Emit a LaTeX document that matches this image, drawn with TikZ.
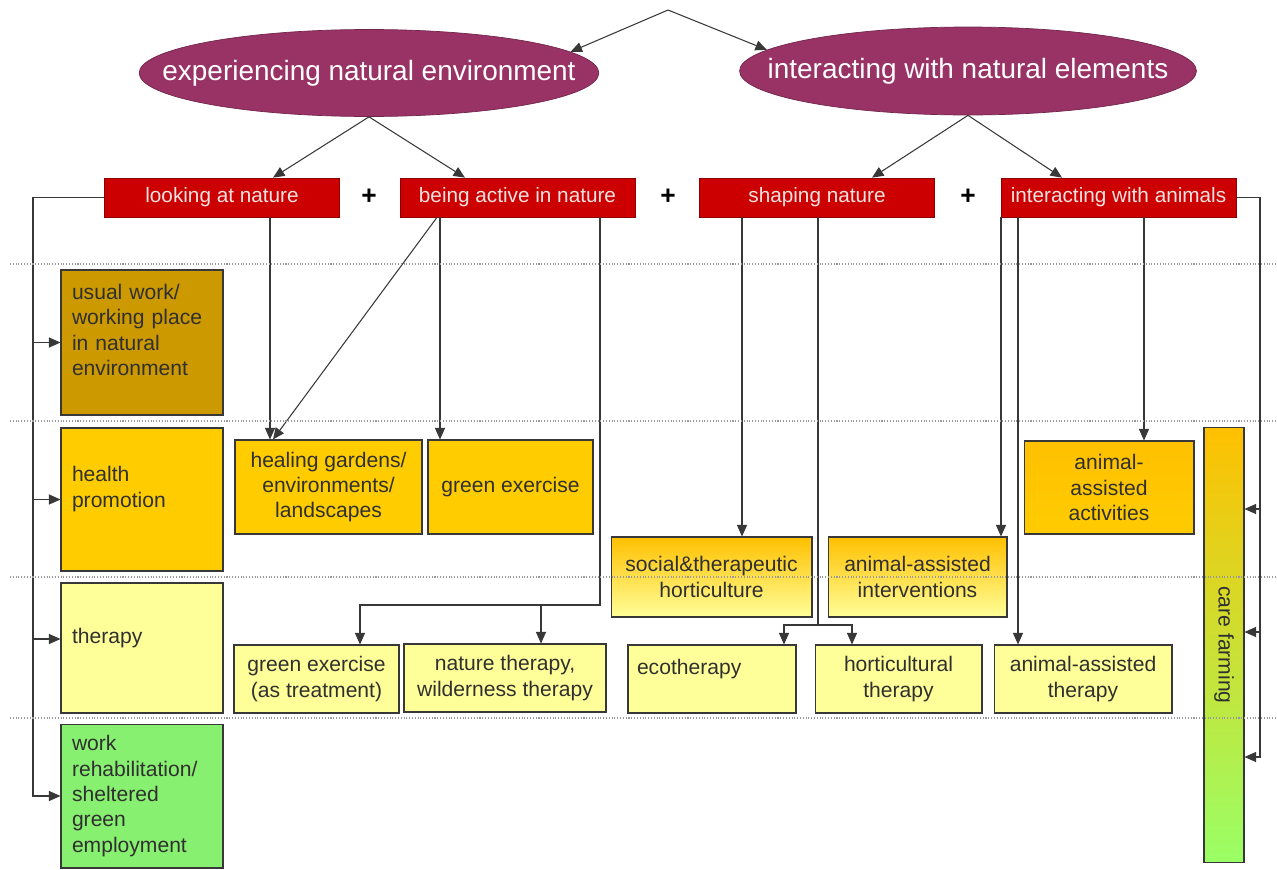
\documentclass[tikz,border=0pt]{standalone}
\usepackage{fontspec}
\setmainfont{Liberation Sans}
\usetikzlibrary{shapes.geometric,arrows.meta}
\definecolor{plum}{HTML}{993366}
\definecolor{boxred}{HTML}{CC0000}
\definecolor{redtext}{HTML}{F2E2E2}
\definecolor{darkgold}{HTML}{CC9900}
\definecolor{amber}{HTML}{FFCC00}
\definecolor{deepamber}{HTML}{FFC000}
\definecolor{paleyellow}{HTML}{FFFF99}
\definecolor{lightgreen}{HTML}{88F070}
\definecolor{limegreen}{HTML}{99FF66}
\definecolor{textgray}{HTML}{303030}
\definecolor{linegray}{HTML}{383838}
\begin{document}
\begin{tikzpicture}[x=0.02cm,y=-0.02cm,
  every node/.style={font=\fontsize{12}{14.4}\selectfont, text=textgray},
  oval/.style={ellipse, draw=plum!75!black, fill=plum, text=white, font=\fontsize{15.9}{18}\selectfont, inner xsep=-0.88cm, inner ysep=0pt},
  redbox/.style={draw=boxred!70!black, fill=boxred, text=redtext, minimum width=4.7cm, minimum height=0.78cm, font=\fontsize{11.8}{14}\selectfont},
  box/.style={draw=linegray, line width=0.6pt, inner sep=2pt},
  lane/.style={box, minimum width=3.24cm, text width=2.8cm, align=left},
  cell/.style={box, align=center},
  plus/.style={text=black, font=\fontsize{15}{15}\selectfont\bfseries},
  conn/.style={draw=linegray, line width=0.6pt},
  arr/.style={conn, -{Triangle[length=2.3mm,width=2mm]}}]
\useasboundingbox (0,0) rectangle (1277,869);

\node[oval, minimum width=9.16cm, minimum height=1.74cm] (expe) at (369,73) {experiencing natural environment};
\node[oval, minimum width=9.14cm, minimum height=1.76cm] (inter) at (968,71) {interacting with natural elements};

\node[redbox] (look) at (222,197.5) {looking at nature};
\node[redbox] (active) at (517.5,197.5) {being active in nature};
\node[redbox] (shape) at (817,197.5) {shaping nature};
\node[redbox] (animals) at (1118.5,197.5) {interacting with animals};
\node[plus] (plus1) at (369,197) {+};
\node[plus] (plus2) at (668,197) {+};
\node[plus] (plus3) at (968,197) {+};

\node[lane, fill=darkgold, minimum height=2.9cm] (usual) at (142,342.5) {usual work/\\working place\\in natural\\environment\\ \mbox{}};
\node[lane, fill=amber, minimum height=2.86cm] (health) at (142,499.5) {health\\promotion\\ \mbox{}};
\node[lane, fill=paleyellow, minimum height=2.6cm] (therapy) at (142,648) {therapy\\ \mbox{}};
\node[lane, fill=lightgreen, minimum height=2.88cm] (rehab) at (142,796) {work\\rehabilitation/\\sheltered\\green\\employment};

\node[cell, fill=amber, minimum width=3.74cm, minimum height=1.88cm] (heal) at (328.5,487) {healing gardens/\\environments/\\landscapes};
\node[cell, fill=amber, minimum width=3.3cm, minimum height=1.88cm] (gex) at (510.5,487) {green exercise};
\node[cell, fill=paleyellow, minimum width=3.3cm, minimum height=1.36cm] (gext) at (316.5,679) {green exercise\\(as treatment)};
\node[cell, fill=paleyellow, minimum width=4.04cm, minimum height=1.36cm] (natth) at (505,678) {nature therapy,\\wilderness therapy};
\node[cell, top color=deepamber, bottom color=paleyellow, minimum width=4.02cm, minimum height=1.6cm] (social) at (711.5,577) {social\&therapeutic\\horticulture};
\node[cell, top color=deepamber, bottom color=paleyellow, minimum width=3.58cm, minimum height=1.6cm] (aai) at (917.5,577) {animal-assisted\\interventions};
\node[cell, top color=deepamber, bottom color=amber, minimum width=3.4cm, minimum height=1.86cm] (aaa) at (1109,487.5) {animal-\\assisted\\activities};
\node[box, fill=paleyellow, minimum width=3.36cm, minimum height=1.36cm, text width=3cm, align=left] (eco) at (712,679) {ecotherapy\\ \mbox{}};
\node[cell, fill=paleyellow, minimum width=3.34cm, minimum height=1.36cm] (hort) at (898.5,679) {horticultural\\therapy};
\node[cell, fill=paleyellow, minimum width=3.56cm, minimum height=1.36cm] (aat) at (1083,679) {animal-assisted\\therapy};
\node[box, top color=deepamber, bottom color=limegreen, minimum width=0.8cm, minimum height=8.72cm] (care) at (1224,645) {\rotatebox{-90}{care farming}};

\coordinate (apex) at (668,10);
\foreach \n/\x in {t1/273,t2/465,t3/872,t4/1062,xl/33,xr/1260,d1/437,c1/270,c2/440,c3/600,c4/360,c5/541,c6/742,c7/818,c8/784,c9/852,c10/1001,c11/1018,c12/1144}
  \coordinate (\n) at (\x,0);
\foreach \n/\y in {r1/605,r2/625,k0/639,k1/509,k2/632,k3/757}
  \coordinate (\n) at (0,\y);

\draw[arr] (apex) -- (expe.6);
\draw[arr] (apex) -- (inter.174);
\draw[arr] (expe.south) -- (look.north -| t1);
\draw[arr] (expe.south) -- (active.north -| t2);
\draw[arr] (inter.south) -- (shape.north -| t3);
\draw[arr] (inter.south) -- (animals.north -| t4);

\draw[arr] (look.west) -| (rehab.west -| xl) -- (rehab.west);
\draw[arr] (usual.west -| xl) -- (usual.west);
\draw[arr] (health.west -| xl) -- (health.west);
\draw[arr] (k0 -| xl) -- (k0 -| therapy.west);

\draw[arr] (animals.east) -| (k3 -| xr) -- (k3 -| care.east);
\draw[arr] (k1 -| xr) -- (k1 -| care.east);
\draw[arr] (k2 -| xr) -- (k2 -| care.east);

\draw[arr] (look.south -| c1) -- (heal.north -| c1);
\draw[arr] (active.south -| d1) -- (heal.north -| t1);
\draw[arr] (active.south -| c2) -- (gex.north -| c2);
\draw[arr] (active.south -| c3) -- (r1 -| c3) -| (gext.north -| c4);
\draw[arr] (r1 -| c5) -- (natth.north -| c5);

\draw[arr] (shape.south -| c6) -- (social.north -| c6);
\draw[arr] (shape.south -| c7) -- (r2 -| c7) -| (eco.north -| c8);
\draw[arr] (r2 -| c7) -| (hort.north -| c9);

\draw[arr] (animals.south -| c10) -- (aai.north -| c10);
\draw[arr] (animals.south -| c11) -- (aat.north -| c11);
\draw[arr] (animals.south -| c12) -- (aaa.north -| c12);

\foreach \y in {264,421,577,718}
  \draw[gray!80, densely dotted, line width=0.6pt] (10,\y) -- (1277,\y);
\end{tikzpicture}
\end{document}
